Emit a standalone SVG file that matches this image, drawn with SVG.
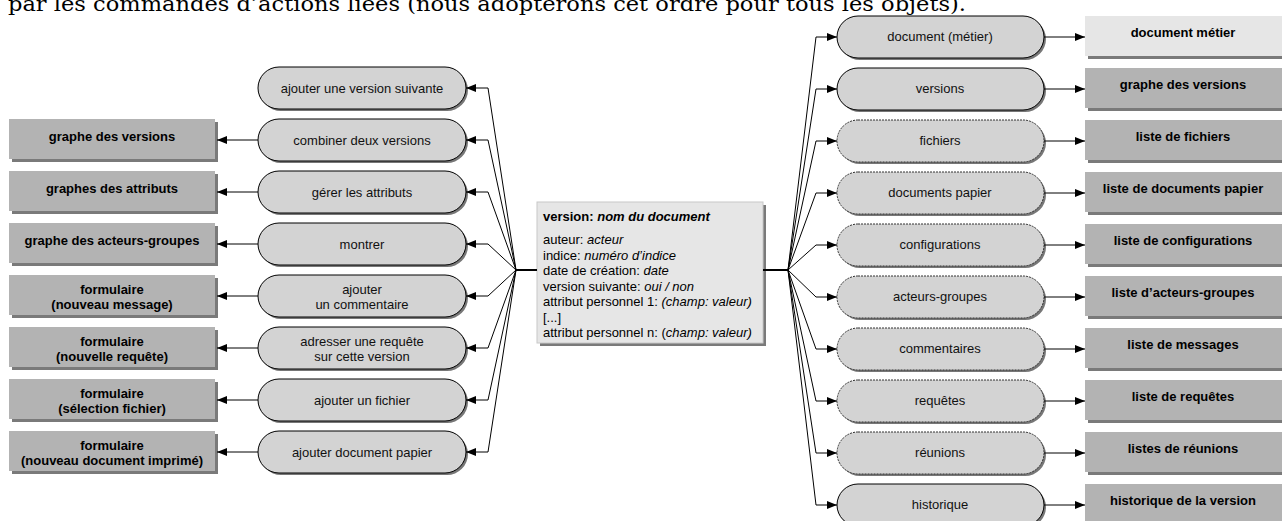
<svg xmlns="http://www.w3.org/2000/svg" width="1282" height="521" viewBox="0 0 1282 521">
<defs>
<marker id="arr" markerWidth="10" markerHeight="8" refX="10" refY="4" orient="auto" markerUnits="userSpaceOnUse"><path d="M0,0 L10,4 L0,8 z" fill="#000"/></marker>
<style>
.t{font-family:"Liberation Sans",Arial,sans-serif;font-size:13px;fill:#111;text-anchor:middle}
.b{font-family:"Liberation Sans",Arial,sans-serif;font-size:13px;font-weight:bold;fill:#000;text-anchor:middle}
.c{font-family:"Liberation Sans",Arial,sans-serif;font-size:13px;fill:#000}
.pill{fill:#d3d3d3;stroke:#000;stroke-width:1}
.dash{fill:#d3d3d3;stroke:#333;stroke-width:1;stroke-dasharray:2 1}
.psh{fill:#777}
.box{fill:#b3b3b3}
.box2{fill:#e6e6e6}
.bsh{fill:#7a7a7a}
.con{fill:none;stroke:#000;stroke-width:1}
.hub{fill:none;stroke:#000;stroke-width:2}
</style>
</defs>
<rect width="1282" height="521" fill="#fff"/>
<text x="8" y="11" font-family="'DejaVu Serif',serif" font-size="20" textLength="958" lengthAdjust="spacingAndGlyphs" fill="#000">par les commandes d’actions liées (nous adopterons cet ordre pour tous les objets).</text>

<!-- left result boxes -->
<g id="lb1"><rect class="bsh" x="12" y="122" width="206" height="40"/><rect class="box" x="9" y="119" width="206" height="40"/><text class="b" x="112" y="141">graphe des versions</text></g>
<g id="lb2"><rect class="bsh" x="12" y="174" width="206" height="40"/><rect class="box" x="9" y="171" width="206" height="40"/><text class="b" x="112" y="193">graphes des attributs</text></g>
<g id="lb3"><rect class="bsh" x="12" y="226" width="206" height="40"/><rect class="box" x="9" y="223" width="206" height="40"/><text class="b" x="112" y="245">graphe des acteurs-groupes</text></g>
<g id="lb4"><rect class="bsh" x="12" y="278" width="206" height="40"/><rect class="box" x="9" y="275" width="206" height="40"/><text class="b" x="112" y="294">formulaire</text><text class="b" x="112" y="309">(nouveau message)</text></g>
<g id="lb5"><rect class="bsh" x="12" y="330" width="206" height="40"/><rect class="box" x="9" y="327" width="206" height="40"/><text class="b" x="112" y="346">formulaire</text><text class="b" x="112" y="361">(nouvelle requête)</text></g>
<g id="lb6"><rect class="bsh" x="12" y="382" width="206" height="40"/><rect class="box" x="9" y="379" width="206" height="40"/><text class="b" x="112" y="398">formulaire</text><text class="b" x="112" y="413">(sélection fichier)</text></g>
<g id="lb7"><rect class="bsh" x="12" y="434" width="206" height="40"/><rect class="box" x="9" y="431" width="206" height="40"/><text class="b" x="112" y="450">formulaire</text><text class="b" x="112" y="465">(nouveau document imprimé)</text></g>

<!-- left action pills -->
<g id="lp0"><rect class="psh" x="260" y="69" width="208" height="42" rx="21"/><rect class="pill" x="258" y="67" width="208" height="42" rx="21"/><text class="t" x="362" y="93">ajouter une version suivante</text></g>
<g id="lp1"><rect class="psh" x="260" y="121" width="208" height="42" rx="21"/><rect class="pill" x="258" y="119" width="208" height="42" rx="21"/><text class="t" x="362" y="145">combiner deux versions</text></g>
<g id="lp2"><rect class="psh" x="260" y="173" width="208" height="42" rx="21"/><rect class="pill" x="258" y="171" width="208" height="42" rx="21"/><text class="t" x="362" y="197">gérer les attributs</text></g>
<g id="lp3"><rect class="psh" x="260" y="225" width="208" height="42" rx="21"/><rect class="pill" x="258" y="223" width="208" height="42" rx="21"/><text class="t" x="362" y="249">montrer</text></g>
<g id="lp4"><rect class="psh" x="260" y="277" width="208" height="42" rx="21"/><rect class="pill" x="258" y="275" width="208" height="42" rx="21"/><text class="t" x="362" y="294">ajouter</text><text class="t" x="362" y="309">un commentaire</text></g>
<g id="lp5"><rect class="psh" x="260" y="329" width="208" height="42" rx="21"/><rect class="pill" x="258" y="327" width="208" height="42" rx="21"/><text class="t" x="362" y="346">adresser une requête</text><text class="t" x="362" y="361">sur cette version</text></g>
<g id="lp6"><rect class="psh" x="260" y="381" width="208" height="42" rx="21"/><rect class="pill" x="258" y="379" width="208" height="42" rx="21"/><text class="t" x="362" y="405">ajouter un fichier</text></g>
<g id="lp7"><rect class="psh" x="260" y="433" width="208" height="42" rx="21"/><rect class="pill" x="258" y="431" width="208" height="42" rx="21"/><text class="t" x="362" y="457">ajouter document papier</text></g>

<!-- center object -->
<g id="version">
<rect class="bsh" x="540" y="205" width="226" height="141"/>
<rect x="537" y="202" width="226" height="141" fill="#e6e6e6" stroke="#c8c8c8" stroke-width="1"/>
<text class="c" x="543" y="221" font-weight="bold">version: <tspan font-style="italic">nom du document</tspan></text>
<text class="c" x="543" y="244">auteur: <tspan font-style="italic">acteur</tspan></text>
<text class="c" x="543" y="259.5">indice: <tspan font-style="italic">numéro d’indice</tspan></text>
<text class="c" x="543" y="275">date de création: <tspan font-style="italic">date</tspan></text>
<text class="c" x="543" y="290.5">version suivante: <tspan font-style="italic">oui / non</tspan></text>
<text class="c" x="543" y="306">attribut personnel  1: <tspan font-style="italic">(champ: valeur)</tspan></text>
<text class="c" x="543" y="321.5">[...]</text>
<text class="c" x="543" y="337">attribut personnel n: (<tspan font-style="italic">champ: valeur)</tspan></text>
</g>

<!-- right pills -->
<g id="rp0"><rect class="psh" x="839" y="18" width="207" height="42" rx="21"/><rect class="pill" x="837" y="16" width="207" height="42" rx="21"/><text class="t" x="940" y="41">document (métier)</text></g>
<g id="rp1"><rect class="psh" x="839" y="70" width="207" height="42" rx="21"/><rect class="pill" x="837" y="68" width="207" height="42" rx="21"/><text class="t" x="940" y="93">versions</text></g>
<g id="rp2"><rect class="psh" x="839" y="122" width="207" height="42" rx="21"/><rect class="dash" x="837" y="120" width="207" height="42" rx="21"/><text class="t" x="940" y="145">fichiers</text></g>
<g id="rp3"><rect class="psh" x="839" y="174" width="207" height="42" rx="21"/><rect class="dash" x="837" y="172" width="207" height="42" rx="21"/><text class="t" x="940" y="197">documents papier</text></g>
<g id="rp4"><rect class="psh" x="839" y="226" width="207" height="42" rx="21"/><rect class="dash" x="837" y="224" width="207" height="42" rx="21"/><text class="t" x="940" y="249">configurations</text></g>
<g id="rp5"><rect class="psh" x="839" y="278" width="207" height="42" rx="21"/><rect class="dash" x="837" y="276" width="207" height="42" rx="21"/><text class="t" x="940" y="301">acteurs-groupes</text></g>
<g id="rp6"><rect class="psh" x="839" y="330" width="207" height="42" rx="21"/><rect class="dash" x="837" y="328" width="207" height="42" rx="21"/><text class="t" x="940" y="353">commentaires</text></g>
<g id="rp7"><rect class="psh" x="839" y="382" width="207" height="42" rx="21"/><rect class="dash" x="837" y="380" width="207" height="42" rx="21"/><text class="t" x="940" y="405">requêtes</text></g>
<g id="rp8"><rect class="psh" x="839" y="434" width="207" height="42" rx="21"/><rect class="dash" x="837" y="432" width="207" height="42" rx="21"/><text class="t" x="940" y="457">réunions</text></g>
<g id="rp9"><rect class="psh" x="839" y="486" width="207" height="42" rx="21"/><rect class="pill" x="837" y="484" width="207" height="42" rx="21"/><text class="t" x="940" y="509">historique</text></g>

<!-- right result boxes -->
<g id="rb0"><rect class="bsh" x="1088" y="19" width="200" height="40"/><rect class="box2" x="1085" y="16" width="200" height="40"/><text class="b" x="1183" y="37">document métier</text></g>
<g id="rb1"><rect class="bsh" x="1088" y="71" width="200" height="40"/><rect class="box" x="1085" y="68" width="200" height="40"/><text class="b" x="1183" y="89">graphe des versions</text></g>
<g id="rb2"><rect class="bsh" x="1088" y="123" width="200" height="40"/><rect class="box" x="1085" y="120" width="200" height="40"/><text class="b" x="1183" y="141">liste de fichiers</text></g>
<g id="rb3"><rect class="bsh" x="1088" y="175" width="200" height="40"/><rect class="box" x="1085" y="172" width="200" height="40"/><text class="b" x="1183" y="193">liste de documents papier</text></g>
<g id="rb4"><rect class="bsh" x="1088" y="227" width="200" height="40"/><rect class="box" x="1085" y="224" width="200" height="40"/><text class="b" x="1183" y="245">liste de configurations</text></g>
<g id="rb5"><rect class="bsh" x="1088" y="279" width="200" height="40"/><rect class="box" x="1085" y="276" width="200" height="40"/><text class="b" x="1183" y="297">liste d’acteurs-groupes</text></g>
<g id="rb6"><rect class="bsh" x="1088" y="331" width="200" height="40"/><rect class="box" x="1085" y="328" width="200" height="40"/><text class="b" x="1183" y="349">liste de messages</text></g>
<g id="rb7"><rect class="bsh" x="1088" y="383" width="200" height="40"/><rect class="box" x="1085" y="380" width="200" height="40"/><text class="b" x="1183" y="401">liste de requêtes</text></g>
<g id="rb8"><rect class="bsh" x="1088" y="435" width="200" height="40"/><rect class="box" x="1085" y="432" width="200" height="40"/><text class="b" x="1183" y="453">listes de réunions</text></g>
<g id="rb9"><rect class="bsh" x="1088" y="487" width="200" height="40"/><rect class="box" x="1085" y="484" width="200" height="40"/><text class="b" x="1183" y="505">historique de la version</text></g>

<!-- connectors -->
<g id="connectors">
<path class="hub" d="M516,270 H537"/>
<path class="hub" d="M763,270 H788"/>
<path class="con" d="M516,270 L488,88 H466" marker-end="url(#arr)"/>
<path class="con" d="M516,270 L488,140 H466" marker-end="url(#arr)"/>
<path class="con" d="M516,270 L488,192 H466" marker-end="url(#arr)"/>
<path class="con" d="M516,270 L488,244 H466" marker-end="url(#arr)"/>
<path class="con" d="M516,270 L488,296 H466" marker-end="url(#arr)"/>
<path class="con" d="M516,270 L488,348 H466" marker-end="url(#arr)"/>
<path class="con" d="M516,270 L488,400 H466" marker-end="url(#arr)"/>
<path class="con" d="M516,270 L488,452 H466" marker-end="url(#arr)"/>
<path class="con" d="M258,140 H217" marker-end="url(#arr)"/>
<path class="con" d="M258,192 H217" marker-end="url(#arr)"/>
<path class="con" d="M258,244 H217" marker-end="url(#arr)"/>
<path class="con" d="M258,296 H217" marker-end="url(#arr)"/>
<path class="con" d="M258,348 H217" marker-end="url(#arr)"/>
<path class="con" d="M258,400 H217" marker-end="url(#arr)"/>
<path class="con" d="M258,452 H217" marker-end="url(#arr)"/>
<path class="con" d="M788,270 L816,37 H837" marker-end="url(#arr)"/>
<path class="con" d="M788,270 L816,89 H837" marker-end="url(#arr)"/>
<path class="con" d="M788,270 L816,141 H837" marker-end="url(#arr)"/>
<path class="con" d="M788,270 L816,193 H837" marker-end="url(#arr)"/>
<path class="con" d="M788,270 L816,245 H837" marker-end="url(#arr)"/>
<path class="con" d="M788,270 L816,297 H837" marker-end="url(#arr)"/>
<path class="con" d="M788,270 L816,349 H837" marker-end="url(#arr)"/>
<path class="con" d="M788,270 L816,401 H837" marker-end="url(#arr)"/>
<path class="con" d="M788,270 L816,453 H837" marker-end="url(#arr)"/>
<path class="con" d="M788,270 L816,505 H837" marker-end="url(#arr)"/>
<path class="con" d="M1044,37 H1085" marker-end="url(#arr)"/>
<path class="con" d="M1044,89 H1085" marker-end="url(#arr)"/>
<path class="con" d="M1044,141 H1085" marker-end="url(#arr)"/>
<path class="con" d="M1044,193 H1085" marker-end="url(#arr)"/>
<path class="con" d="M1044,245 H1085" marker-end="url(#arr)"/>
<path class="con" d="M1044,297 H1085" marker-end="url(#arr)"/>
<path class="con" d="M1044,349 H1085" marker-end="url(#arr)"/>
<path class="con" d="M1044,401 H1085" marker-end="url(#arr)"/>
<path class="con" d="M1044,453 H1085" marker-end="url(#arr)"/>
<path class="con" d="M1044,505 H1085" marker-end="url(#arr)"/>
</g>
</svg>
